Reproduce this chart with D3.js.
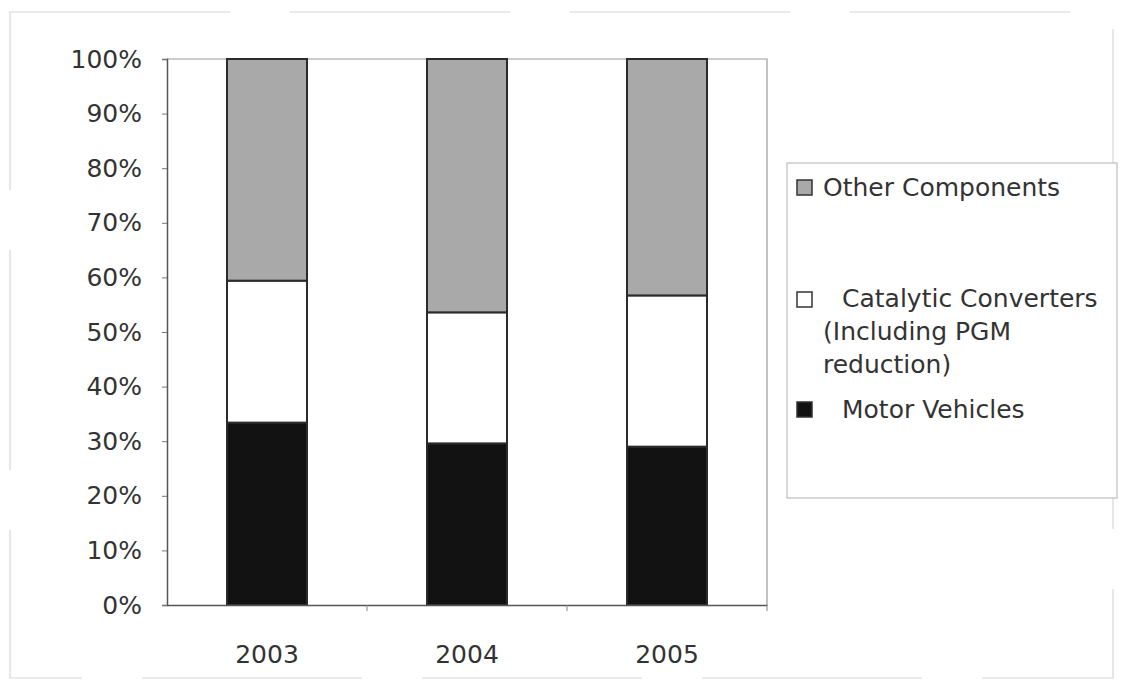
<!DOCTYPE html>
<html>
<head>
<meta charset="utf-8">
<script src="https://cdn.jsdelivr.net/npm/d3@7"></script>
<style>
  html, body { margin: 0; padding: 0; background: #fff; }
  svg { display: block; }
  text { font-family: "DejaVu Sans", "Liberation Sans", sans-serif; fill: #333; }
</style>
</head>
<body>
<svg id="chart" width="1123" height="687"></svg>
<script>
// Share of demand by end use, per year (percent of total)
const years = ["2003", "2004", "2005"];
const motorVehicles = [33.4, 29.6, 29.0];
const catalyticConverters = [26.0, 24.0, 27.7];
const otherComponents = [40.6, 46.4, 43.3];
const yTicks = [0, 10, 20, 30, 40, 50, 60, 70, 80, 90, 100];

const seriesNames = ["Motor Vehicles", "Catalytic Converters", "Other Components"];
const seriesFill = { "Motor Vehicles": "#121212", "Catalytic Converters": "#ffffff", "Other Components": "#a9a9a9" };

const rows = years.map((y, i) => ({
  year: y,
  "Motor Vehicles": motorVehicles[i],
  "Catalytic Converters": catalyticConverters[i],
  "Other Components": otherComponents[i]
}));
const stacked = d3.stack().keys(seriesNames)(rows);

const svg = d3.select("#chart");
const plot = { left: 167, right: 767, top: 59, bottom: 605 };

// faint outer chart frame
svg.append("rect")
  .attr("x", 10).attr("y", 12).attr("width", 1103).attr("height", 666)
  .attr("fill", "none").attr("stroke", "#d8d8d8").attr("stroke-width", 1.2)
  .attr("stroke-dasharray", "220,60");

const x = d3.scaleBand().domain(years).range([plot.left, plot.right])
  .paddingInner(0.6).paddingOuter(0.3);
const y = d3.scaleLinear().domain([0, 100]).range([plot.bottom, plot.top]);

// plot area border (top/right lighter)
svg.append("path")
  .attr("d", `M${plot.left},${plot.top}H${plot.right}V${plot.bottom}`)
  .attr("fill", "none").attr("stroke", "#9a9a9a").attr("stroke-width", 1.2);

// bars
svg.append("g").selectAll("g")
  .data(stacked).join("g")
  .attr("fill", d => seriesFill[d.key])
  .selectAll("rect")
  .data(d => d).join("rect")
  .attr("x", d => x(d.data.year))
  .attr("y", d => y(d[1]))
  .attr("width", x.bandwidth())
  .attr("height", d => y(d[0]) - y(d[1]))
  .attr("stroke", "#2b2b2b").attr("stroke-width", 2);

// y axis
const yAxis = svg.append("g")
  .attr("transform", `translate(${plot.left},0)`)
  .call(d3.axisLeft(y).tickValues(yTicks).tickFormat(d => d + "%").tickSize(5).tickPadding(20));
yAxis.select(".domain").attr("stroke", "#555").attr("stroke-width", 1.5);
yAxis.selectAll(".tick line").attr("stroke", "#777");
yAxis.selectAll(".tick text")
  .style("font-family", "'DejaVu Sans', sans-serif")
  .style("font-size", "25px").attr("fill", "#333");

// x axis: ticks at category boundaries
const xAxis = svg.append("g")
  .attr("transform", `translate(0,${plot.bottom})`)
  .call(d3.axisBottom(x).tickSize(0).tickPadding(40));
xAxis.select(".domain").attr("stroke", "#555").attr("stroke-width", 1.5);
xAxis.selectAll(".tick text")
  .style("font-family", "'DejaVu Sans', sans-serif")
  .style("font-size", "25px").attr("fill", "#333");
const step = x.step();
xAxis.selectAll("line.sep")
  .data(years.slice(1).concat(["end"])).join("line")
  .attr("class", "sep")
  .attr("x1", (d, i) => plot.left + step * (i + 1))
  .attr("x2", (d, i) => plot.left + step * (i + 1))
  .attr("y1", 0).attr("y2", 6)
  .attr("stroke", "#888");

// legend
const legend = svg.append("g");
legend.append("rect")
  .attr("x", 787).attr("y", 163).attr("width", 330).attr("height", 335)
  .attr("fill", "#fff").attr("stroke", "#bdbdbd").attr("stroke-width", 1.2);

const legendItems = [
  { key: "Other Components", sy: 180, lines: [{ t: "Other Components", x: 823, y: 196 }] },
  { key: "Catalytic Converters", sy: 292, lines: [
      { t: "Catalytic Converters", x: 842, y: 307 },
      { t: "(Including PGM", x: 823, y: 340 },
      { t: "reduction)", x: 823, y: 373 }] },
  { key: "Motor Vehicles", sy: 402, lines: [{ t: "Motor Vehicles", x: 842, y: 418 }] }
];
legendItems.forEach(item => {
  legend.append("rect")
    .attr("x", 797).attr("y", item.sy).attr("width", 15).attr("height", 15)
    .attr("fill", seriesFill[item.key]).attr("stroke", "#333").attr("stroke-width", 1.5);
  item.lines.forEach(l => {
    legend.append("text").attr("x", l.x).attr("y", l.y)
      .style("font-size", "25px").text(l.t);
  });
});
</script>
</body>
</html>
